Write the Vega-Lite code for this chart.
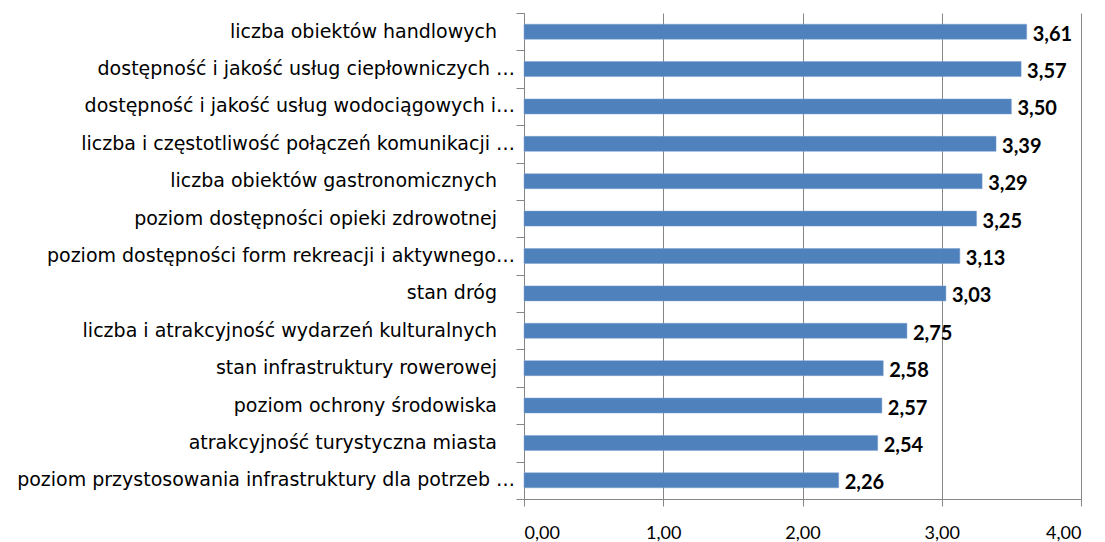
{
  "$schema": "https://vega.github.io/schema/vega-lite/v6.json",
  "autosize": {"type": "none"},
  "padding": {"left": 524, "top": 13, "right": 24, "bottom": 43},
  "width": 557,
  "height": 486,
  "background": "white",
  "config": {
    "locale": {"number": {"decimal": ",", "thousands": " ", "grouping": [3], "currency": ["", " zł"]}},
    "view": {"stroke": null},
    "font": "Lato"
  },
  "data": {
    "values": [
      {"kategoria": "liczba obiektów handlowych", "ocena": 3.61},
      {"kategoria": "dostępność i jakość usług ciepłowniczych …", "ocena": 3.57},
      {"kategoria": "dostępność i jakość usług wodociągowych i…", "ocena": 3.50},
      {"kategoria": "liczba i częstotliwość połączeń komunikacji …", "ocena": 3.39},
      {"kategoria": "liczba obiektów gastronomicznych", "ocena": 3.29},
      {"kategoria": "poziom dostępności opieki zdrowotnej", "ocena": 3.25},
      {"kategoria": "poziom dostępności form rekreacji i aktywnego…", "ocena": 3.13},
      {"kategoria": "stan dróg", "ocena": 3.03},
      {"kategoria": "liczba i atrakcyjność wydarzeń kulturalnych", "ocena": 2.75},
      {"kategoria": "stan infrastruktury rowerowej", "ocena": 2.58},
      {"kategoria": "poziom ochrony środowiska", "ocena": 2.57},
      {"kategoria": "atrakcyjność turystyczna miasta", "ocena": 2.54},
      {"kategoria": "poziom przystosowania infrastruktury dla potrzeb …", "ocena": 2.26}
    ]
  },
  "encoding": {
    "y": {
      "field": "kategoria",
      "type": "nominal",
      "sort": null,
      "scale": {"paddingInner": 0, "paddingOuter": 0},
      "axis": {
        "title": null,
        "labels": false,
        "tickBand": "extent",
        "domainColor": "#868686",
        "tickColor": "#868686",
        "tickSize": 8
      }
    },
    "x": {
      "field": "ocena",
      "type": "quantitative",
      "scale": {"domain": [0, 4], "nice": false},
      "axis": {
        "title": null,
        "values": [0, 1, 2, 3, 4],
        "format": ".2f",
        "grid": true,
        "gridColor": "#868686",
        "domainColor": "#868686",
        "tickColor": "#868686",
        "tickSize": 7,
        "labelPadding": 18,
        "labelFontSize": 18,
        "labelColor": "#000000",
        "labelFont": "Lato"
      }
    }
  },
  "layer": [
    {
      "mark": {"type": "bar", "size": 15, "color": "#4F81BD", "stroke": "#7EA1CF", "strokeWidth": 0.5}
    },
    {
      "mark": {"type": "text", "align": "left", "baseline": "middle", "dx": 6, "dy": 3, "fontSize": 20, "fontWeight": "bold", "font": "Lato", "color": "#000000"},
      "encoding": {"text": {"field": "ocena", "type": "quantitative", "format": ".2f"}}
    },
    {
      "transform": [{"filter": {"field": "kategoria", "oneOf": [
        "dostępność i jakość usług ciepłowniczych …",
        "dostępność i jakość usług wodociągowych i…",
        "liczba i częstotliwość połączeń komunikacji …",
        "poziom dostępności form rekreacji i aktywnego…",
        "poziom przystosowania infrastruktury dla potrzeb …"
      ]}}],
      "mark": {"type": "text", "align": "right", "baseline": "middle", "dx": -9, "fontSize": 19, "font": "DejaVu Sans", "color": "#000000"},
      "encoding": {"x": {"datum": 0, "type": "quantitative"}, "text": {"field": "kategoria", "type": "nominal"}}
    },
    {
      "transform": [{"filter": {"field": "kategoria", "oneOf": [
        "liczba obiektów handlowych",
        "liczba obiektów gastronomicznych",
        "poziom dostępności opieki zdrowotnej",
        "stan dróg",
        "liczba i atrakcyjność wydarzeń kulturalnych",
        "stan infrastruktury rowerowej",
        "poziom ochrony środowiska",
        "atrakcyjność turystyczna miasta"
      ]}}],
      "mark": {"type": "text", "align": "right", "baseline": "middle", "dx": -27, "fontSize": 19, "font": "DejaVu Sans", "color": "#000000"},
      "encoding": {"x": {"datum": 0, "type": "quantitative"}, "text": {"field": "kategoria", "type": "nominal"}}
    }
  ]
}
